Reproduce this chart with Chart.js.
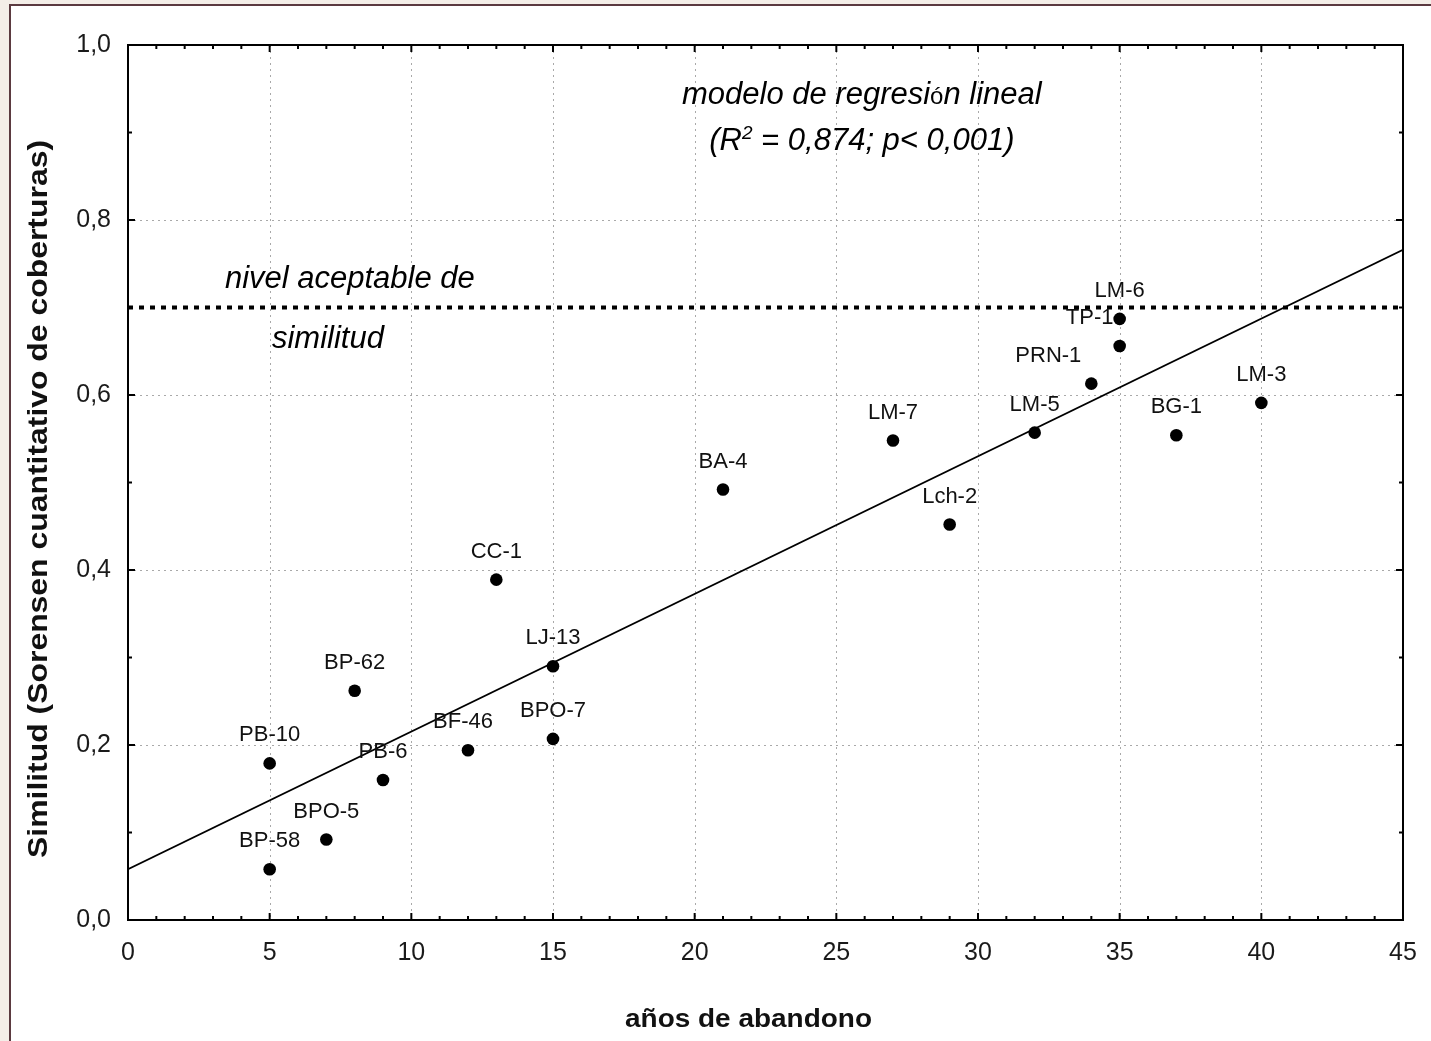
<!DOCTYPE html>
<html><head><meta charset="utf-8">
<script src="https://cdn.jsdelivr.net/npm/chart.js@4.4.0/dist/chart.umd.min.js"></script>
<style>html,body{margin:0;padding:0;background:#f4eee8;}canvas{display:block;}</style>
</head><body>
<canvas id="c" width="1431" height="1041"></canvas>
<script>
// ---------- data ----------
const siteLabels = ['BP-58','PB-10','BPO-5','BP-62','PB-6','BF-46','CC-1','LJ-13','BPO-7','BA-4','LM-7','Lch-2','LM-5','PRN-1','TP-1','LM-6','BG-1','LM-3'];
const yearsAbandoned = [5,5,7,8,9,12,13,15,15,21,27,29,32,34,35,35,37,40];
const similarity = [0.058,0.179,0.092,0.262,0.160,0.194,0.389,0.290,0.207,0.492,0.548,0.452,0.557,0.613,0.656,0.687,0.554,0.591];
const regressionX = [0,45];
const regressionY = [0.058,0.766];
const thresholdX = [0,45];
const thresholdY = [0.7,0.7];
const xTicks = [0,5,10,15,20,25,30,35,40,45];
const xTickLabels = ['0','5','10','15','20','25','30','35','40','45'];
const yTicks = [0,0.2,0.4,0.6,0.8,1.0];
const yTickLabels = ['0,0','0,2','0,4','0,6','0,8','1,0'];
const xTitle = 'años de abandono';
const yTitle = 'Similitud (Sorensen cuantitativo de coberturas)';
const modelLine1 = ['modelo de regresi','ó','n lineal'];
const modelLine2 = ['(R','2',' = 0,874; p< 0,001)'];
const levelLine1 = 'nivel aceptable de';
const levelLine2 = 'similitud';

// ---------- style / placement (not data) ----------
const FONT = '"Liberation Sans", Arial, Helvetica, sans-serif';
const labelShiftPx = {'PRN-1': -43, 'TP-1': -30, 'BF-46': -5};
const notePos = {model: {x: 25.9, y1: 0.933, y2: 0.880}, level: {x1: 3.42, y1: 0.722, x2: 5.08, y2: 0.654}};

function drawSegments(ctx, segs, cx, baseline){
  let total = 0;
  segs.forEach(s => { ctx.font = s.font; s.w = ctx.measureText(s.text).width; total += s.w; });
  let xx = cx - total / 2;
  ctx.textAlign = 'left';
  segs.forEach(s => { ctx.font = s.font; ctx.fillText(s.text, xx, baseline + (s.dy || 0)); xx += s.w; });
}

function fitText(ctx, text, cx, cy, targetLen, angle){
  const w = ctx.measureText(text).width;
  ctx.save();
  ctx.translate(cx, cy);
  ctx.rotate(angle);
  ctx.scale(targetLen / w, 1);
  ctx.textAlign = 'center';
  ctx.textBaseline = 'alphabetic';
  ctx.fillText(text, 0, 0);
  ctx.restore();
}

const framePlugin = {
  id: 'framePlugin',
  beforeDraw(chart){
    const ctx = chart.ctx, W = chart.width, H = chart.height;
    ctx.save();
    ctx.fillStyle = '#f4eee8'; ctx.fillRect(0, 0, W, H);
    ctx.fillStyle = '#ffffff'; ctx.fillRect(11, 6, W - 11, H - 6);
    ctx.strokeStyle = '#5b3a40'; ctx.lineWidth = 2;
    ctx.beginPath(); ctx.moveTo(10, H); ctx.lineTo(10, 5); ctx.lineTo(W, 5); ctx.stroke();
    ctx.restore();
  },
  beforeDatasetsDraw(chart){
    const {ctx, chartArea: a, scales: {x, y}} = chart;
    ctx.save();
    ctx.strokeStyle = '#a9a9a9'; ctx.lineWidth = 1; ctx.setLineDash([2, 4]);
    xTicks.slice(1, -1).forEach(v => {
      const px = Math.round(x.getPixelForValue(v)) + 0.5;
      ctx.beginPath(); ctx.moveTo(px, a.top); ctx.lineTo(px, a.bottom); ctx.stroke();
    });
    yTicks.slice(1, -1).forEach(v => {
      const py = Math.round(y.getPixelForValue(v)) + 0.5;
      ctx.beginPath(); ctx.moveTo(a.left, py); ctx.lineTo(a.right, py); ctx.stroke();
    });
    ctx.restore();
  },
  afterDatasetsDraw(chart){
    const {ctx, chartArea: a, scales: {x, y}} = chart;
    ctx.save();
    // axes frame
    ctx.strokeStyle = '#000'; ctx.lineWidth = 2; ctx.setLineDash([]);
    ctx.strokeRect(a.left, a.top, a.right - a.left, a.bottom - a.top);
    // inward ticks on all four sides
    ctx.lineWidth = 2;
    for (let v = x.min; v <= x.max + 1e-9; v += 1) {
      const px = x.getPixelForValue(v);
      const len = (v % 5 === 0) ? 7 : 4;
      ctx.beginPath(); ctx.moveTo(px, a.bottom); ctx.lineTo(px, a.bottom - len); ctx.stroke();
      ctx.beginPath(); ctx.moveTo(px, a.top); ctx.lineTo(px, a.top + len); ctx.stroke();
    }
    for (let k = 0; k <= 10; k++) {
      const py = y.getPixelForValue(k / 10);
      const len = (k % 2 === 0) ? 7 : 4;
      ctx.beginPath(); ctx.moveTo(a.left, py); ctx.lineTo(a.left + len, py); ctx.stroke();
      ctx.beginPath(); ctx.moveTo(a.right, py); ctx.lineTo(a.right - len, py); ctx.stroke();
    }
    // point labels
    ctx.fillStyle = '#111';
    ctx.font = '22px ' + FONT;
    ctx.textAlign = 'center'; ctx.textBaseline = 'alphabetic';
    siteLabels.forEach((lab, i) => {
      const px = x.getPixelForValue(yearsAbandoned[i]) + (labelShiftPx[lab] || 0);
      const py = y.getPixelForValue(similarity[i]) - 22;
      ctx.fillText(lab, px, py);
    });
    // annotations
    ctx.fillStyle = '#000';
    const it = 'italic 31px ' + FONT;
    const cx = x.getPixelForValue(notePos.model.x);
    drawSegments(ctx, [
      {text: modelLine1[0], font: it},
      {text: modelLine1[1], font: '24px ' + FONT},
      {text: modelLine1[2], font: it}
    ], cx, y.getPixelForValue(notePos.model.y1));
    drawSegments(ctx, [
      {text: modelLine2[0], font: it},
      {text: modelLine2[1], font: 'italic 19px ' + FONT, dy: -11},
      {text: modelLine2[2], font: it}
    ], cx, y.getPixelForValue(notePos.model.y2));
    ctx.font = it; ctx.textAlign = 'left';
    ctx.fillText(levelLine1, x.getPixelForValue(notePos.level.x1), y.getPixelForValue(notePos.level.y1));
    ctx.fillText(levelLine2, x.getPixelForValue(notePos.level.x2), y.getPixelForValue(notePos.level.y2));
    // axis titles
    ctx.fillStyle = '#111';
    ctx.font = 'bold 26px ' + FONT;
    fitText(ctx, xTitle, x.getPixelForValue(21.9), 1027, 247, 0);
    ctx.font = 'bold 28px ' + FONT;
    fitText(ctx, yTitle, 47, 499, 718, -Math.PI / 2);
    ctx.restore();
  }
};

new Chart(document.getElementById('c'), {
  type: 'scatter',
  data: {
    datasets: [
      {label: 'sitios', data: yearsAbandoned.map((v, i) => ({x: v, y: similarity[i]})),
       backgroundColor: '#000', borderColor: '#000', pointRadius: 6.3, pointHoverRadius: 6.3, borderWidth: 0, order: 0},
      {label: 'regresión', data: regressionX.map((v, i) => ({x: v, y: regressionY[i]})),
       showLine: true, borderColor: '#000', borderWidth: 1.8, pointRadius: 0, fill: false, order: 1},
      {label: 'nivel', data: thresholdX.map((v, i) => ({x: v, y: thresholdY[i]})),
       showLine: true, borderColor: '#000', borderWidth: 4, borderDash: [5, 6], borderCapStyle: 'butt', pointRadius: 0, fill: false, order: 2}
    ]
  },
  options: {
    responsive: false, animation: false, events: [],
    layout: {padding: {top: 45, right: 28, left: 0, bottom: 0}},
    plugins: {legend: {display: false}, tooltip: {enabled: false}},
    scales: {
      x: {
        type: 'linear', min: 0, max: 45,
        afterBuildTicks: s => { s.ticks = xTicks.map(v => ({value: v})); },
        afterFit: s => { s.height = 121; s.paddingLeft = 0; s.paddingRight = 0; },
        grid: {display: false, drawTicks: false}, border: {display: false},
        ticks: {padding: 18, autoSkip: false, maxRotation: 0, color: '#1a1a1a',
                font: {family: FONT, size: 25}, callback: (v, i) => xTickLabels[i]}
      },
      y: {
        type: 'linear', min: 0, max: 1,
        afterBuildTicks: s => { s.ticks = yTicks.map(v => ({value: v})); },
        afterFit: s => { s.width = 128; s.paddingTop = 0; s.paddingBottom = 0; },
        grid: {display: false, drawTicks: false}, border: {display: false},
        ticks: {padding: 17, autoSkip: false, color: '#1a1a1a',
                font: {family: FONT, size: 25}, callback: (v, i) => yTickLabels[i]}
      }
    }
  },
  plugins: [framePlugin]
});
</script>
</body></html>
